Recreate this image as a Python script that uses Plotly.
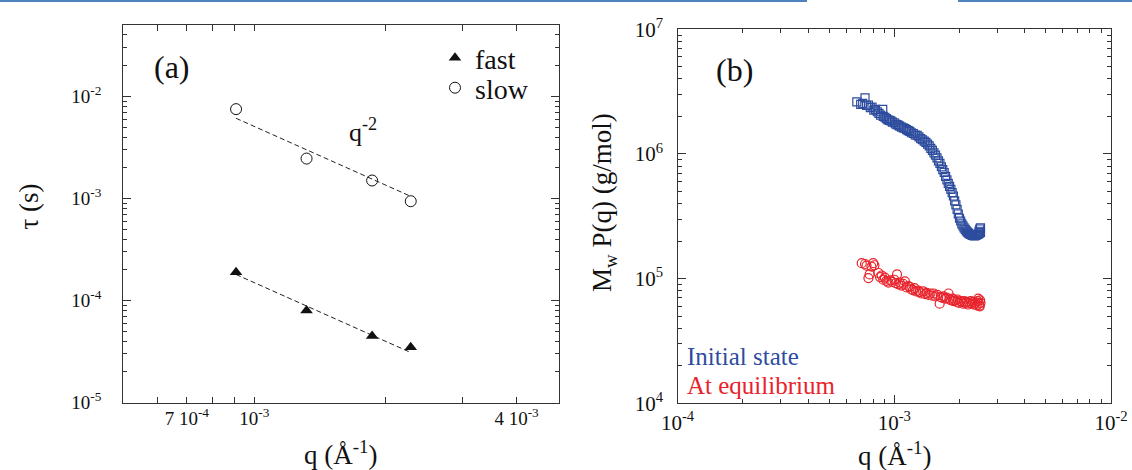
import math
import plotly.graph_objects as go

# ---------------- Panel (a) data ----------------
q_a = [9.08e-4, 1.318e-3, 1.864e-3, 2.286e-3]
tau_fast = [1.89e-4, 8.0e-5, 4.5e-5, 3.5e-5]
tau_slow = [7.5e-3, 2.46e-3, 1.50e-3, 9.4e-4]
fit_q = [9.08e-4, 2.286e-3]
fit_fast = [1.8e-4, 3.1e-5]
fit_slow = [6.1e-3, 1.05e-3]

# ---------------- Panel (b) data ----------------
blue_q = [0.672, 0.700, 0.715, 0.733, 0.745, 0.760, 0.775, 0.790, 0.805, 0.820,
          0.835, 0.850, 0.865, 0.885, 0.890, 0.905, 0.920, 0.935, 0.950, 0.965,
          0.980, 1.000, 1.015, 1.030, 1.045, 1.060, 1.080, 1.100, 1.120, 1.140,
          1.160, 1.180, 1.200, 1.225, 1.250, 1.275, 1.300, 1.325, 1.350, 1.375,
          1.400, 1.425, 1.450, 1.475, 1.500, 1.525, 1.550, 1.575, 1.600, 1.625,
          1.650, 1.675, 1.700, 1.725, 1.750, 1.775, 1.800, 1.825, 1.850, 1.875,
          1.900, 1.925, 1.950, 1.975, 2.000, 2.025, 2.050, 2.075, 2.100, 2.125,
          2.150, 2.175, 2.200, 2.225, 2.250, 2.275, 2.300, 2.325, 2.350, 2.375,
          2.400, 2.425, 2.450, 2.475, 2.500, 2.500, 2.480, 2.460]
blue_M = [2.62, 2.50, 2.55, 2.82, 2.45, 2.47, 2.35, 2.38, 2.25, 2.28,
          2.18, 2.12, 2.05, 2.28, 2.00, 1.97, 1.92, 1.88, 1.86, 1.84,
          1.80, 1.78, 1.74, 1.72, 1.70, 1.67, 1.64, 1.62, 1.60, 1.57,
          1.54, 1.52, 1.48, 1.46, 1.42, 1.41, 1.37, 1.33, 1.30, 1.27,
          1.24, 1.20, 1.16, 1.11, 1.07, 1.02, 0.98, 0.93, 0.88, 0.84,
          0.79, 0.75, 0.71, 0.66, 0.62, 0.58, 0.55, 0.52, 0.49, 0.46,
          0.42, 0.39, 0.36, 0.33, 0.305, 0.29, 0.275, 0.265, 0.255, 0.248,
          0.242, 0.236, 0.232, 0.228, 0.226, 0.224, 0.222, 0.221, 0.220, 0.222,
          0.224, 0.226, 0.228, 0.232, 0.235, 0.255, 0.250, 0.240]
red_q = [0.708, 0.733, 0.745, 0.760, 0.770, 0.785, 0.800, 0.810, 0.845, 0.860,
         0.875, 0.890, 0.905, 0.920, 0.940, 0.960, 0.980, 1.000, 1.015, 1.030,
         1.045, 1.060, 1.080, 1.100, 1.120, 1.140, 1.160, 1.180, 1.200, 1.220,
         1.240, 1.260, 1.290, 1.310, 1.330, 1.360, 1.390, 1.410, 1.440, 1.470,
         1.500, 1.520, 1.550, 1.580, 1.620, 1.640, 1.670, 1.690, 1.720, 1.750,
         1.780, 1.800, 1.830, 1.860, 1.880, 1.910, 1.940, 1.960, 1.990, 2.020,
         2.050, 2.080, 2.100, 2.130, 2.160, 2.190, 2.220, 2.250, 2.280, 2.310,
         2.340, 2.370, 2.400, 2.420, 2.440, 2.460, 2.480, 2.500, 2.490, 2.470]
red_M = [13.3, 13.1, 12.7, 10.1, 10.8, 12.5, 13.3, 12.8, 11.1, 10.3,
         10.6, 9.8, 10.2, 9.6, 9.3, 9.7, 9.4, 9.8, 9.2, 10.8,
         9.0, 9.3, 8.8, 9.1, 9.5, 8.5, 8.7, 8.6, 8.2, 8.1,
         8.4, 7.9, 8.0, 7.8, 7.6, 7.9, 7.5, 7.7, 7.4, 7.6,
         7.3, 7.6, 7.2, 7.4, 6.3, 7.1, 7.0, 7.2, 6.9, 7.0,
         7.6, 6.8, 6.7, 6.9, 6.6, 6.7, 6.5, 6.8, 6.4, 6.6,
         6.5, 6.3, 6.6, 6.4, 6.5, 6.2, 6.4, 6.6, 6.3, 6.5,
         6.2, 6.4, 6.1, 6.6, 6.9, 6.3, 6.0, 6.4, 6.7, 6.1]

labels_a_x = ["7 10<sup>-4</sup>", "10<sup>-3</sup>", "4 10<sup>-3</sup>"]
labels_a_y = ["10<sup>-5</sup>", "10<sup>-4</sup>", "10<sup>-3</sup>", "10<sup>-2</sup>"]
labels_b_x = ["10<sup>-4</sup>", "10<sup>-3</sup>", "10<sup>-2</sup>"]
labels_b_y = ["10<sup>4</sup>", "10<sup>5</sup>", "10<sup>6</sup>", "10<sup>7</sup>"]

BLUE = "#2d4c9e"
RED = "#e8232b"
FONT = "Liberation Serif"
W, H = 1132, 470

def px(x):
    return x / W

def py(y):
    return 1 - y / H

def minors(e0, e1):
    return [k * 10 ** e for e in range(e0, e1) for k in range(2, 10)]

fig = go.Figure()

# panel (a)
fig.add_trace(go.Scatter(x=fit_q, y=fit_fast, mode="lines", xaxis="x", yaxis="y",
                         line=dict(color="#222", width=1, dash="5px,3px"), showlegend=False))
fig.add_trace(go.Scatter(x=fit_q, y=fit_slow, mode="lines", xaxis="x", yaxis="y",
                         line=dict(color="#222", width=1, dash="5px,3px"), showlegend=False))
fig.add_trace(go.Scatter(x=q_a, y=tau_fast, mode="markers", name="fast", xaxis="x", yaxis="y",
                         legend="legend",
                         marker=dict(symbol="triangle-up", size=11, color="#111")))
fig.add_trace(go.Scatter(x=q_a, y=tau_slow, mode="markers", name="slow", xaxis="x", yaxis="y",
                         legend="legend2",
                         marker=dict(symbol="circle-open", size=11, color="#111", line=dict(width=1))))

# panel (b)
fig.add_trace(go.Scatter(x=[v * 1e-3 for v in blue_q], y=[v * 1e6 for v in blue_M], mode="markers",
                         xaxis="x2", yaxis="y2", showlegend=False,
                         marker=dict(symbol="square-open", size=8, color=BLUE, line=dict(width=1.2))))
fig.add_trace(go.Scatter(x=[v * 1e-3 for v in red_q], y=[v * 1e4 for v in red_M], mode="markers",
                         xaxis="x2", yaxis="y2", showlegend=False,
                         marker=dict(symbol="circle-open", size=9, color=RED, line=dict(width=1.2))))

axis_common = dict(type="log", showgrid=False, zeroline=False, showline=True, linecolor="#333",
                   linewidth=1.2, mirror="ticks", ticks="inside", tickcolor="#333", tickwidth=1,
                   automargin=False)

leg_common = dict(xanchor="left", yanchor="top", bgcolor="rgba(0,0,0,0)",
                  font=dict(size=28, family=FONT, color="#111"), itemwidth=30, tracegroupgap=0)

fig.update_layout(
    template="none",
    width=W, height=H, margin=dict(l=0, r=0, t=0, b=0, autoexpand=False),
    paper_bgcolor="white", plot_bgcolor="white",
    font=dict(family=FONT, color="#111"),
    xaxis=dict(**axis_common, domain=[px(123.2), px(558.8)], anchor="y",
               range=[math.log10(5e-4), math.log10(5e-3)],
               tickvals=[7e-4, 1e-3, 4e-3], ticktext=labels_a_x, ticklen=6,
               tickfont=dict(size=19, family=FONT, color="#111"), ticklabelstandoff=-2,
               minor=dict(tickvals=[6e-4, 8e-4, 9e-4, 2e-3, 3e-3], ticks="inside", ticklen=6,
                          tickcolor="#333", showgrid=False)),
    yaxis=dict(**axis_common, domain=[py(402.7), py(25)], anchor="x",
               range=[-5, math.log10(5e-2)],
               tickvals=[1e-5, 1e-4, 1e-3, 1e-2], ticktext=labels_a_y, ticklen=8,
               tickfont=dict(size=19, family=FONT, color="#111"), ticklabelstandoff=17,
               minor=dict(tickvals=minors(-5, -2) + [2e-2, 3e-2, 4e-2], ticks="inside", ticklen=4,
                          tickcolor="#333", showgrid=False)),
    xaxis2=dict(**axis_common, domain=[px(677.5), px(1111)], anchor="y2",
                range=[-4, -2],
                tickvals=[1e-4, 1e-3, 1e-2], ticktext=labels_b_x, ticklen=8,
                tickfont=dict(size=21, family=FONT, color="#111"), ticklabelstandoff=0,
                minor=dict(tickvals=minors(-4, -2), ticks="inside", ticklen=4,
                           tickcolor="#333", showgrid=False)),
    yaxis2=dict(**axis_common, domain=[py(403.3), py(29.3)], anchor="x2",
                range=[4, 7],
                tickvals=[1e4, 1e5, 1e6, 1e7], ticktext=labels_b_y, ticklen=8,
                tickfont=dict(size=21, family=FONT, color="#111"), ticklabelstandoff=9,
                minor=dict(tickvals=minors(4, 7), ticks="inside", ticklen=4,
                           tickcolor="#333", showgrid=False)),
    legend=dict(**leg_common, x=px(435), y=py(33)),
    legend2=dict(**leg_common, x=px(435), y=py(63)),
    showlegend=True,
)

ann = [
    dict(text="τ (s)", x=px(28.6), y=py(207), textangle=-90, size=27),
    dict(text="q (Å<sup>-1</sup>)", x=px(341), y=py(453), textangle=0, size=27),
    dict(text="M<sub>w</sub> P(q) (g/mol)", x=px(604), y=py(203), textangle=-90, size=27),
    dict(text="q (Å<sup>-1</sup>)", x=px(895), y=py(454), textangle=0, size=27),
    dict(text="(a)", x=px(172), y=py(66.7), textangle=0, size=32),
    dict(text="(b)", x=px(734), y=py(70), textangle=0, size=32),
    dict(text="q<sup>-2</sup>", x=px(363), y=py(130), textangle=0, size=26),
]
for a in ann:
    fig.add_annotation(text=a["text"], x=a["x"], y=a["y"], xref="paper", yref="paper",
                       showarrow=False, textangle=a["textangle"], xanchor="center", yanchor="middle",
                       font=dict(size=a["size"], family=FONT, color="#111"))

fig.add_annotation(text="Initial state", x=px(685), y=py(356), xref="paper", yref="paper",
                   showarrow=False, xanchor="left", yanchor="middle",
                   font=dict(size=25, family=FONT, color=BLUE))
fig.add_annotation(text="At equilibrium", x=px(685), y=py(385), xref="paper", yref="paper",
                   showarrow=False, xanchor="left", yanchor="middle",
                   font=dict(size=25, family=FONT, color=RED))

# decorative header rule from the source page
fig.add_shape(type="line", xref="paper", yref="paper", x0=0, x1=px(807), y0=py(1), y1=py(1),
              line=dict(color="#4f81bd", width=2))
fig.add_shape(type="line", xref="paper", yref="paper", x0=px(958), x1=1, y0=py(1), y1=py(1),
              line=dict(color="#4f81bd", width=2))

fig.write_html("out.html", config={"displayModeBar": False},
               post_script="document.body.style.margin='0px';")
